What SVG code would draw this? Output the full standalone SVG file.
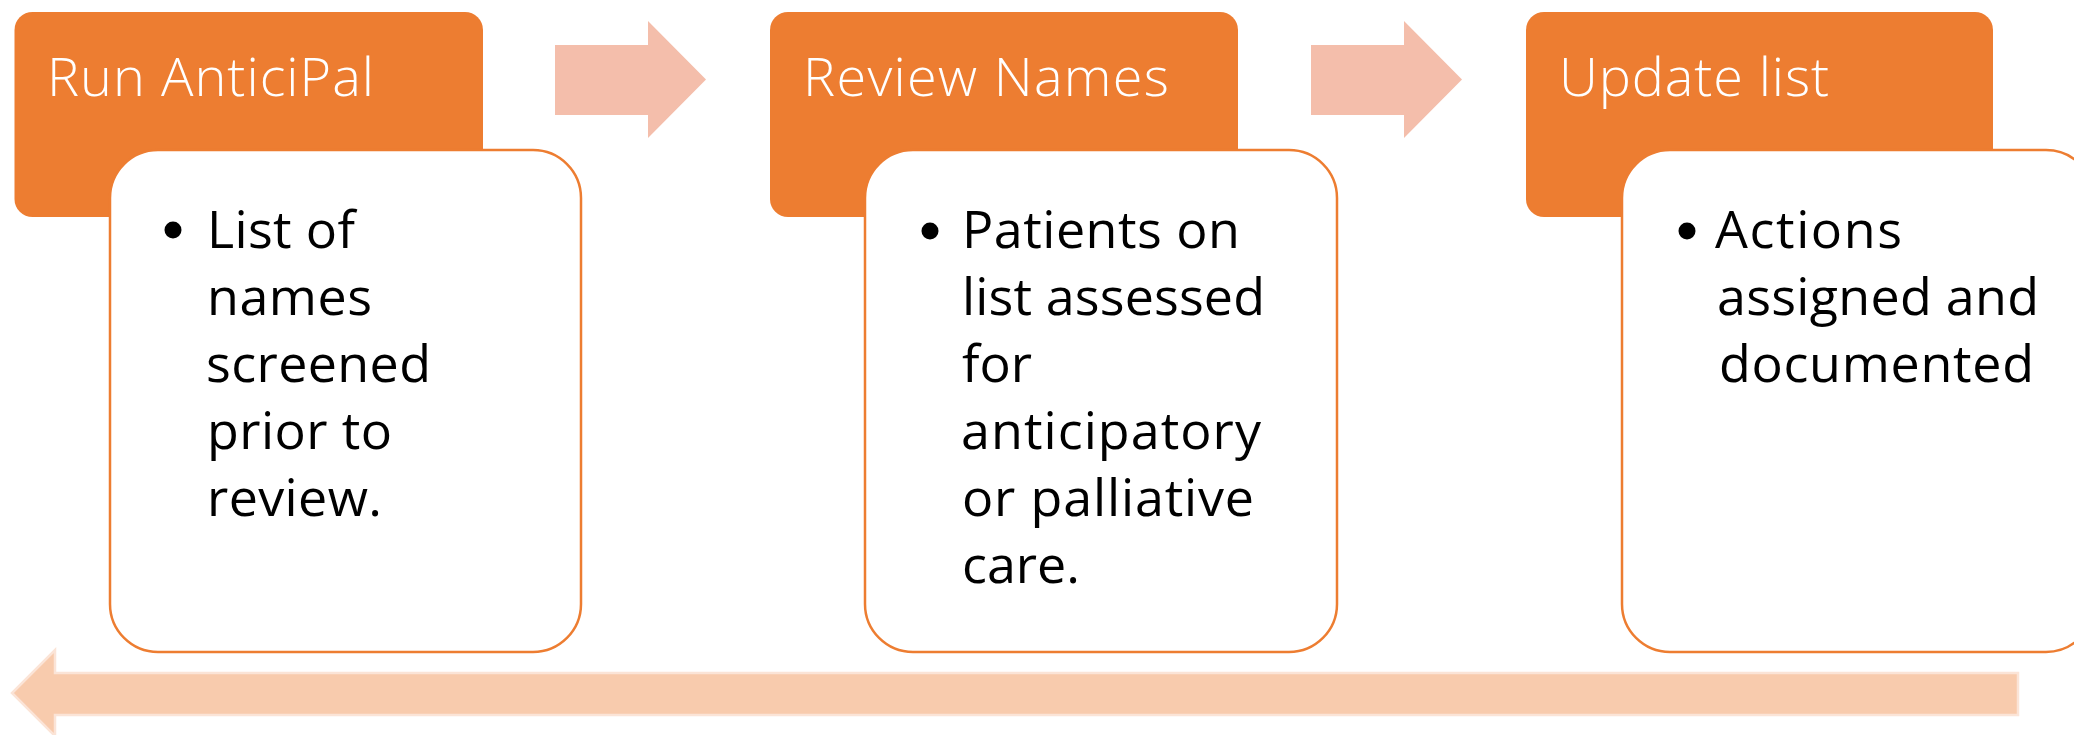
<svg xmlns="http://www.w3.org/2000/svg" width="2074" height="735" viewBox="0 0 2074 735">
  <style>
    .head { fill: #ED7D31; }
    .card { fill: #FFFFFF; stroke: #ED7D31; stroke-width: 2.5; }
    .title { font-family: "Open Sans", "Liberation Sans", sans-serif; font-weight: 300; font-size: 54px; fill: #FFFFFF; }
    .body { font-family: "Open Sans", "Liberation Sans", sans-serif; font-size: 52px; fill: #000000; }
    .dot { fill: #000000; }
    .step { fill: #F4BEAB; }
    .loop { fill: #F8CBAD; stroke: #FBE4D7; stroke-width: 2.5; }
  </style>
  <rect width="2074" height="735" fill="#FFFFFF"/>

  <!-- step 1 -->
  <g id="run-anticipal">
    <rect class="head" x="14.5" y="12" width="468.5" height="205" rx="18"/>
    <text class="title" x="47" y="96" textLength="327">Run AnticiPal</text>
    <rect class="card" x="110" y="150" width="471" height="502" rx="48"/>
    <circle class="dot" cx="173" cy="230" r="8.5"/>
    <text class="body" x="207" y="248" textLength="148">List of</text>
    <text class="body" x="207" y="315" textLength="165">names</text>
    <text class="body" x="206" y="382" textLength="225">screened</text>
    <text class="body" x="207" y="449" textLength="185">prior to</text>
    <text class="body" x="207" y="516" textLength="175">review.</text>
  </g>

  <!-- step 2 -->
  <g id="review-names">
    <rect class="head" x="770" y="12" width="468" height="205" rx="18"/>
    <text class="title" x="803" y="96" textLength="366">Review Names</text>
    <rect class="card" x="865" y="150" width="472" height="502" rx="48"/>
    <circle class="dot" cx="930" cy="231" r="8.5"/>
    <text class="body" x="962" y="248" textLength="278">Patients on</text>
    <text class="body" x="962" y="315" textLength="303">list assessed</text>
    <text class="body" x="962" y="382" textLength="70">for</text>
    <text class="body" x="961" y="449" textLength="300">anticipatory</text>
    <text class="body" x="962" y="516" textLength="292">or palliative</text>
    <text class="body" x="962" y="583" textLength="118">care.</text>
  </g>

  <!-- step 3 -->
  <g id="update-list">
    <rect class="head" x="1526" y="12" width="467" height="205" rx="18"/>
    <text class="title" x="1559" y="96" textLength="270">Update list</text>
    <rect class="card" x="1622" y="150" width="472" height="502" rx="48"/>
    <circle class="dot" cx="1687" cy="231" r="8.5"/>
    <text class="body" x="1715" y="248" textLength="187">Actions</text>
    <text class="body" x="1717" y="315" textLength="322">assigned and</text>
    <text class="body" x="1719" y="382" textLength="315">documented</text>
  </g>

  <!-- connectors -->
  <g id="connectors">
    <path class="step" d="M555,45 H648 V21 L706,79.5 L648,138 V115 H555 Z"/>
    <path class="step" d="M1311,45 H1404 V21 L1462,79.5 L1404,138 V115 H1311 Z"/>
    <path class="loop" d="M2018,673 V715 H55 V736 L12,693 L55,650 V673 Z"/>
  </g>
</svg>
